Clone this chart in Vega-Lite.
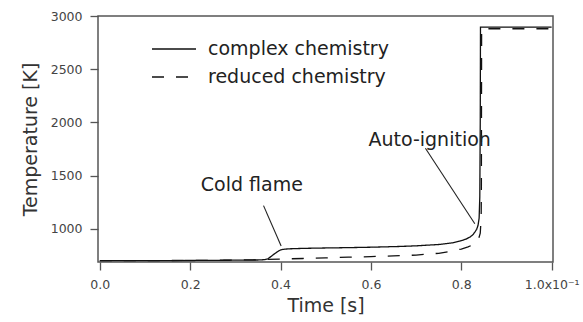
{
  "$schema": "https://vega.github.io/schema/vega-lite/v6.json",
  "width": 455,
  "height": 246,
  "autosize": "none",
  "padding": {"left": 98, "top": 16, "right": 30, "bottom": 60},
  "background": "white",
  "config": {
    "font": "DejaVu Sans",
    "view": {"stroke": "#555", "strokeWidth": 1.5},
    "axis": {
      "grid": false,
      "domain": false,
      "tickColor": "#555",
      "tickWidth": 1.3,
      "tickSize": 8,
      "labelFont": "DejaVu Sans",
      "labelFontSize": 12.5,
      "labelColor": "#444",
      "labelPadding": 8,
      "titleFont": "DejaVu Sans",
      "titleFontSize": 19,
      "titleFontWeight": "normal",
      "titleColor": "#333"
    }
  },
  "datasets": {
    "curves": [
      {"series": "complex chemistry", "t": 0, "T": 700},
      {"series": "complex chemistry", "t": 0.1, "T": 701},
      {"series": "complex chemistry", "t": 0.2, "T": 702},
      {"series": "complex chemistry", "t": 0.3, "T": 705},
      {"series": "complex chemistry", "t": 0.35, "T": 707},
      {"series": "complex chemistry", "t": 0.365, "T": 710},
      {"series": "complex chemistry", "t": 0.372, "T": 718},
      {"series": "complex chemistry", "t": 0.379, "T": 740},
      {"series": "complex chemistry", "t": 0.385, "T": 760},
      {"series": "complex chemistry", "t": 0.39, "T": 775},
      {"series": "complex chemistry", "t": 0.396, "T": 792},
      {"series": "complex chemistry", "t": 0.401, "T": 803},
      {"series": "complex chemistry", "t": 0.41, "T": 809},
      {"series": "complex chemistry", "t": 0.42, "T": 812},
      {"series": "complex chemistry", "t": 0.45, "T": 816},
      {"series": "complex chemistry", "t": 0.486, "T": 819},
      {"series": "complex chemistry", "t": 0.55, "T": 823},
      {"series": "complex chemistry", "t": 0.6, "T": 827},
      {"series": "complex chemistry", "t": 0.664, "T": 834},
      {"series": "complex chemistry", "t": 0.7, "T": 840},
      {"series": "complex chemistry", "t": 0.752, "T": 853},
      {"series": "complex chemistry", "t": 0.78, "T": 868},
      {"series": "complex chemistry", "t": 0.797, "T": 885},
      {"series": "complex chemistry", "t": 0.81, "T": 902},
      {"series": "complex chemistry", "t": 0.819, "T": 922},
      {"series": "complex chemistry", "t": 0.826, "T": 945},
      {"series": "complex chemistry", "t": 0.83, "T": 969},
      {"series": "complex chemistry", "t": 0.834, "T": 995},
      {"series": "complex chemistry", "t": 0.837, "T": 1031},
      {"series": "complex chemistry", "t": 0.8395, "T": 1100},
      {"series": "complex chemistry", "t": 0.841, "T": 1300},
      {"series": "complex chemistry", "t": 0.842, "T": 2000},
      {"series": "complex chemistry", "t": 0.8425, "T": 2895},
      {"series": "complex chemistry", "t": 0.9, "T": 2895},
      {"series": "complex chemistry", "t": 1.0, "T": 2895},
      {"series": "reduced chemistry", "t": 0, "T": 700},
      {"series": "reduced chemistry", "t": 0.1, "T": 701},
      {"series": "reduced chemistry", "t": 0.2, "T": 703},
      {"series": "reduced chemistry", "t": 0.3, "T": 706},
      {"series": "reduced chemistry", "t": 0.35, "T": 709},
      {"series": "reduced chemistry", "t": 0.4, "T": 716},
      {"series": "reduced chemistry", "t": 0.45, "T": 721},
      {"series": "reduced chemistry", "t": 0.5, "T": 727},
      {"series": "reduced chemistry", "t": 0.55, "T": 733},
      {"series": "reduced chemistry", "t": 0.6, "T": 739},
      {"series": "reduced chemistry", "t": 0.65, "T": 745},
      {"series": "reduced chemistry", "t": 0.7, "T": 753},
      {"series": "reduced chemistry", "t": 0.75, "T": 770},
      {"series": "reduced chemistry", "t": 0.78, "T": 790},
      {"series": "reduced chemistry", "t": 0.8, "T": 810},
      {"series": "reduced chemistry", "t": 0.815, "T": 830},
      {"series": "reduced chemistry", "t": 0.825, "T": 848},
      {"series": "reduced chemistry", "t": 0.833, "T": 870},
      {"series": "reduced chemistry", "t": 0.838, "T": 900},
      {"series": "reduced chemistry", "t": 0.842, "T": 960},
      {"series": "reduced chemistry", "t": 0.844, "T": 1100},
      {"series": "reduced chemistry", "t": 0.8445, "T": 1400},
      {"series": "reduced chemistry", "t": 0.845, "T": 2880},
      {"series": "reduced chemistry", "t": 1.0, "T": 2880}
    ],
    "labels": [
      {"label": "Cold flame", "t": 0.3366, "T": 1410},
      {"label": "Auto-ignition", "t": 0.73, "T": 1834}
    ],
    "leaders": [
      {"t": 0.3623, "T": 1218, "t2": 0.4013, "T2": 838},
      {"t": 0.7206, "T": 1757, "t2": 0.83, "T2": 1047}
    ]
  },
  "layer": [
    {
      "data": {"name": "curves"},
      "mark": {"type": "line", "strokeWidth": 1.3, "color": "#111", "clip": true},
      "encoding": {
        "x": {
          "field": "t",
          "type": "quantitative",
          "scale": {"domain": [-0.004, 1.003], "nice": false, "zero": false},
          "axis": {
            "title": "Time [s]",
            "values": [0, 0.2, 0.4, 0.6, 0.8, 1],
            "labelExpr": "datum.value == 1 ? '1.0x10⁻¹' : format(datum.value, '.1f')",
            "labelFlush": false,
            "titlePadding": 6
          }
        },
        "y": {
          "field": "T",
          "type": "quantitative",
          "scale": {"domain": [688, 3000], "nice": false, "zero": false},
          "axis": {
            "title": "Temperature [K]",
            "values": [1000, 1500, 2000, 2500, 3000],
            "format": "d",
            "titlePadding": 10
          }
        },
        "strokeDash": {
          "field": "series",
          "type": "nominal",
          "scale": {
            "domain": ["complex chemistry", "reduced chemistry"],
            "range": [[1, 0], [12, 12]]
          },
          "legend": {
            "title": null,
            "orient": "none",
            "legendX": 64,
            "legendY": 21,
            "padding": 0,
            "symbolType": "M-2,0H2",
            "symbolSize": 484,
            "symbolStrokeWidth": 1.3,
            "symbolStrokeColor": "#111",
            "symbolFillColor": "transparent",
            "labelFont": "DejaVu Sans",
            "labelFontSize": 19,
            "labelColor": "#222",
            "labelOffset": 22,
            "labelLimit": 400,
            "rowPadding": 6
          }
        }
      }
    },
    {
      "data": {"name": "leaders"},
      "mark": {"type": "rule", "strokeWidth": 1.1, "color": "#222"},
      "encoding": {
        "x": {"field": "t", "type": "quantitative"},
        "y": {"field": "T", "type": "quantitative"},
        "x2": {"field": "t2"},
        "y2": {"field": "T2"}
      }
    },
    {
      "data": {"name": "labels"},
      "mark": {"type": "text", "fontSize": 19, "font": "DejaVu Sans", "color": "#222", "align": "center", "baseline": "middle"},
      "encoding": {
        "x": {"field": "t", "type": "quantitative"},
        "y": {"field": "T", "type": "quantitative"},
        "text": {"field": "label"}
      }
    }
  ]
}
